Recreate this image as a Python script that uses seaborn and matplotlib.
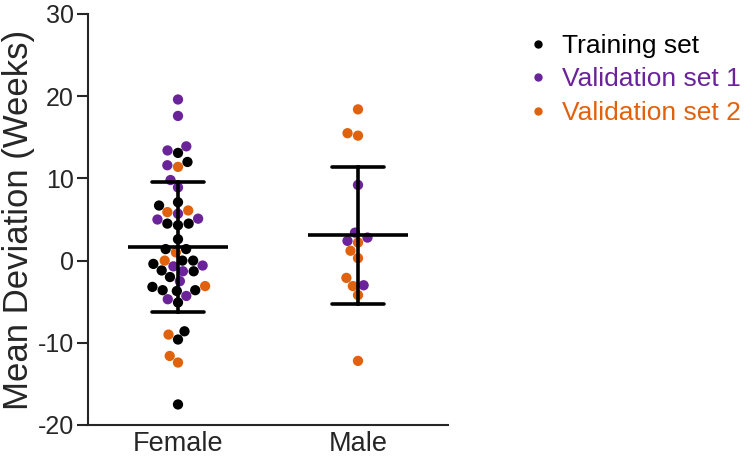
import numpy as np
import pandas as pd
import matplotlib
matplotlib.use("Agg")
import matplotlib.pyplot as plt
from matplotlib.lines import Line2D
import seaborn as sns

categories = ["Female", "Male"]
set_names = ["Training set", "Validation set 1", "Validation set 2"]
set_colors = ["#000000", "#6A2399", "#E0620D"]

female_training = [13.1, 12.0, 6.7, 7.1, 4.5, 4.3, 4.5, 2.6, 1.4, 1.4, 0.0, -0.4, 0.0,
                   -1.2, -1.3, -2.0, -3.6, -3.7, -3.2, -3.6, -5.1, -8.6, -9.6, -17.5]
female_val1 = [19.6, 17.6, 13.4, 13.9, 11.6, 9.8, 8.9, 5.0, 5.1, 5.7, -0.6, -0.7,
               -1.3, -2.5, -4.7, -4.3]
female_val2 = [11.4, 5.9, 6.1, 1.0, 0.0, -3.1, -9.0, -11.6, -12.4]

male_training = []
male_val1 = [9.2, 2.8, 2.4, 3.4, -3.0]
male_val2 = [18.4, 15.5, 15.2, 2.2, 1.2, 0.3, -2.1, -3.1, -4.2, -12.2]

yticks = [-20, -10, 0, 10, 20, 30]

rows = []
for sex, groups in zip(categories, [[female_training, female_val1, female_val2],
                                    [male_training, male_val1, male_val2]]):
    for name, vals in zip(set_names, groups):
        for v in vals:
            rows.append({"sex": sex, "set": name, "value": v})
df = pd.DataFrame(rows)

sns.set_style("ticks")
plt.rcParams["font.family"] = ["Liberation Sans", "DejaVu Sans"]

fig = plt.figure(figsize=(7.52, 4.57), dpi=100)
ax = fig.add_axes([88 / 752, 1 - 425 / 457, (448 - 88) / 752, (425 - 14) / 457])

sns.swarmplot(data=df, x="sex", y="value", hue="set", order=categories,
              hue_order=set_names, palette=set_colors, size=7.4, linewidth=0,
              legend=False, ax=ax, zorder=2)

sns.pointplot(data=df, x="sex", y="value", order=categories, errorbar="sd",
              capsize=0.29, color="black", markers="_", linestyles="none",
              markersize=72, markeredgewidth=2.6,
              err_kws={"linewidth": 2.6}, ax=ax, zorder=5)

ax.set_xlim(-0.5, 1.5)
ax.set_ylim(-20, 30)
ax.set_yticks(yticks)
ax.set_yticklabels([str(t) for t in yticks], fontsize=18)
ax.set_xlabel("")
ax.set_ylabel("Mean Deviation (Weeks)", fontsize=25, labelpad=2)
ax.tick_params(axis="x", length=0, labelsize=19.5, pad=4)
ax.tick_params(axis="y", length=8, width=1.5, pad=2)
for s in ["top", "right"]:
    ax.spines[s].set_visible(False)
for s in ["left", "bottom"]:
    ax.spines[s].set_linewidth(1.5)

handles = [Line2D([], [], marker="o", linestyle="none", color=c, markersize=5)
           for c in set_colors]
leg = fig.legend(handles, set_names, loc="upper left",
                 bbox_to_anchor=(522 / 752, 1 - 34 / 457), frameon=False,
                 fontsize=19, handletextpad=0.3, labelspacing=0.36,
                 handlelength=1.2, borderpad=0, borderaxespad=0)
for txt, c in zip(leg.get_texts(), set_colors):
    txt.set_color(c)

fig.savefig("out.png", dpi=100)
